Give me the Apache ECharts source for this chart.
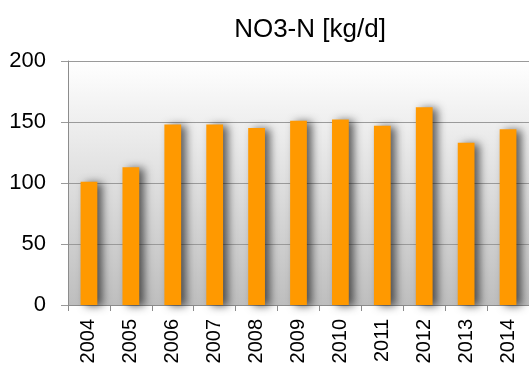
<!DOCTYPE html>
<html>
<head>
<meta charset="utf-8">
<script src="https://cdn.jsdelivr.net/npm/echarts@6/dist/echarts.min.js"></script>
<style>
  html, body { margin: 0; padding: 0; background: #fff; }
  #chart { width: 529px; height: 367px; }
</style>
</head>
<body>
<div id="chart"></div>
<script>
// Yearly nitrate-nitrogen load
const years = ['2004', '2005', '2006', '2007', '2008', '2009', '2010', '2011', '2012', '2013', '2014'];
const no3nLoad = [101, 113, 148, 148, 145, 151, 152, 147, 162, 133, 144];
const yTicks = [0, 50, 100, 150, 200];

const chart = echarts.init(document.getElementById('chart'));
const font = 'Liberation Sans, Arial, sans-serif';

chart.setOption({
  animation: false,
  title: {
    text: 'NO3-N [kg/d]',
    left: 305,
    top: 12,
    textAlign: 'center',
    textStyle: { fontFamily: font, fontSize: 26, fontWeight: 'normal', color: '#000' }
  },
  grid: {
    left: 68,
    top: 61,
    width: 463,
    height: 244,
    show: true,
    borderWidth: 0,
    backgroundColor: {
      type: 'linear', x: 0, y: 0, x2: 0, y2: 1,
      colorStops: [
        { offset: 0, color: '#ffffff' },
        { offset: 1, color: '#bebebe' }
      ]
    }
  },
  xAxis: {
    type: 'category',
    data: years,
    axisLine: { show: true, lineStyle: { color: '#8c8c8c', width: 1 } },
    axisTick: { show: true, length: 6, alignWithLabel: false, lineStyle: { color: '#8c8c8c' } },
    axisLabel: {
      rotate: 90,
      margin: 14,
      fontFamily: font,
      fontSize: 20,
      color: '#000'
    },
    splitLine: { show: false }
  },
  yAxis: {
    type: 'value',
    min: yTicks[0],
    max: yTicks[yTicks.length - 1],
    interval: yTicks[1] - yTicks[0],
    axisLine: { show: true, lineStyle: { color: '#8c8c8c', width: 1 } },
    axisTick: { show: true, length: 7, lineStyle: { color: '#9a9a9a' } },
    axisLabel: {
      margin: 22,
      fontFamily: font,
      fontSize: 22,
      color: '#000'
    },
    splitLine: { show: true, lineStyle: { color: '#9a9a9a', width: 1 } }
  },
  series: [{
    type: 'bar',
    data: no3nLoad,
    barWidth: '40%',
    itemStyle: {
      color: '#ff9900',
      shadowColor: 'rgba(0,0,0,0.6)',
      shadowBlur: 8,
      shadowOffsetX: 5,
      shadowOffsetY: 1
    }
  }]
});
</script>
</body>
</html>
